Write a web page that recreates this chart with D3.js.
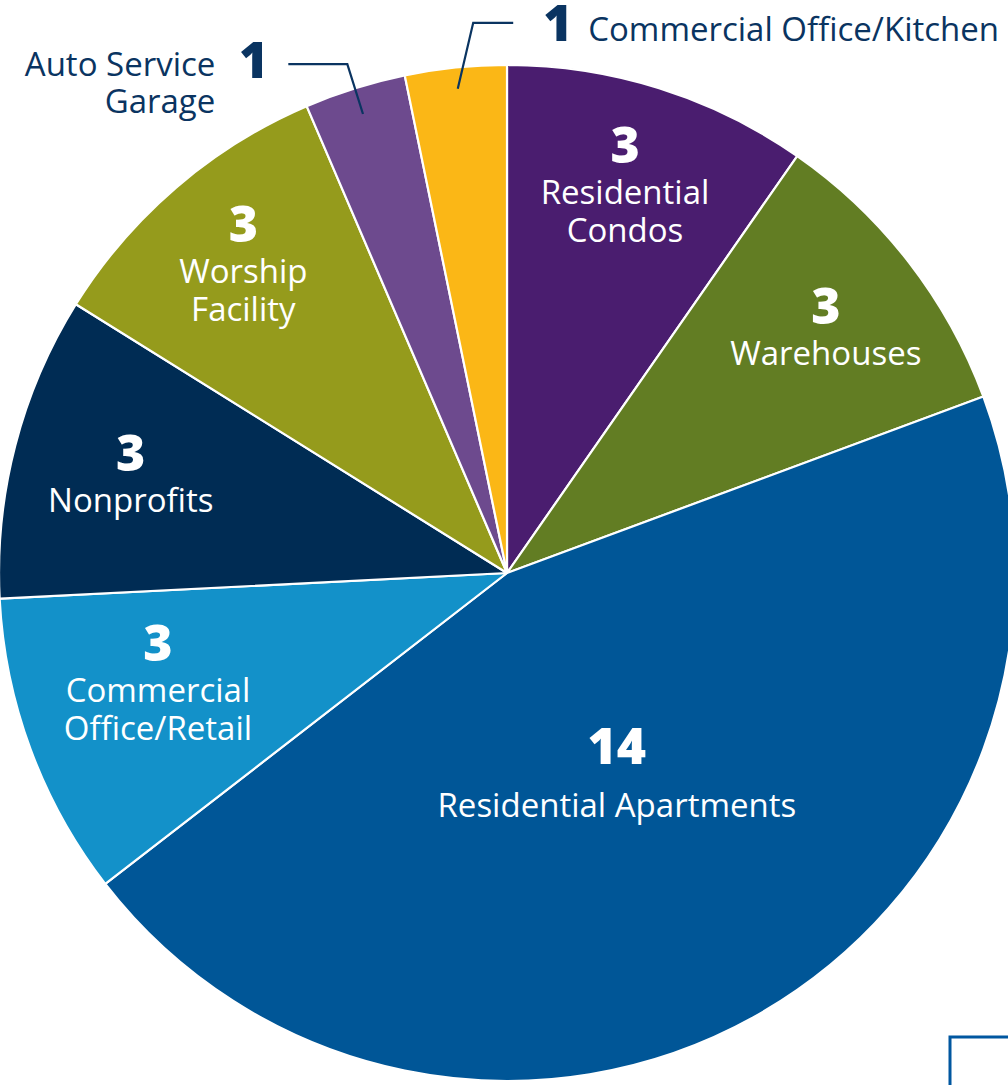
<!DOCTYPE html>
<html><head><meta charset="utf-8">
<script src="https://cdn.jsdelivr.net/npm/d3@7"></script>
<style>
html,body{margin:0;padding:0;background:#fff;}
svg{display:block;}
text{font-family:"Open Sans",sans-serif;}
</style></head>
<body>
<svg id="c" width="1008" height="1085"></svg>
<script>
// ---- data ----
const categories = ["Residential Condos","Warehouses","Residential Apartments","Commercial Office/Retail","Nonprofits","Worship Facility","Auto Service Garage","Commercial Office/Kitchen"];
const values = [3,3,14,3,3,3,1,1];
const labelLines = [["Residential","Condos"],["Warehouses"],["Residential Apartments"],["Commercial","Office/Retail"],["Nonprofits"],["Worship","Facility"],["Auto Service","Garage"],["Commercial Office/Kitchen"]];
const colors = ["#4a1d6f","#627d23","#005697","#1391c9","#002c54","#959b1c","#6d4a8e","#fbb716"];

// ---- layout ----
const W=1008,H=1085, cx=507, cy=573, R=508;
// label block placement: [angle in degrees clockwise from top, radius in px]
const inside = {0:[16.9,406],1:[52.3,403],2:[151.2,228],3:[252.5,366],4:[284.7,389],5:[319.5,406]};
const navy="#0a3461";
const NUM=50, TXT=33, NUMW=800;
const svg=d3.select("#c");
const g=svg.append("g").attr("transform",`translate(${cx},${cy})`);
const pie=d3.pie().sort(null).value(d=>d)(values);
const arc=d3.arc().innerRadius(0).outerRadius(R);
g.selectAll("path.s").data(pie).join("path").attr("class","s")
  .attr("d",arc).attr("fill",(d,i)=>colors[i])
  .attr("stroke","#fff").attr("stroke-width",2.2).attr("stroke-linejoin","round");

function polar(a,r){return [r*Math.sin(a), -r*Math.cos(a)];}

// inside labels
pie.forEach((d,i)=>{
  if(!(i in inside)) return;
  const [deg,rad]=inside[i];
  const [x,y]=polar(deg*Math.PI/180,rad);
  const lines=labelLines[i];
  const numGap = i===2?53:41, lineGap=38;
  const total = 35 + numGap + lineGap*(lines.length-1);
  const top = y - total/2;
  const t=g.append("g").attr("fill","#fff").attr("text-anchor","middle");
  t.append("text").attr("x",x).attr("y",top+35).attr("font-size",NUM).attr("font-weight",NUMW).text(values[i]);
  lines.forEach((l,k)=>{
    t.append("text").attr("x",x).attr("y",top+35+numGap+lineGap*k).attr("font-size",TXT).text(l);
  });
});

// outside labels with leaders
const line=d3.line();
// Auto Service Garage
(function(){
  const d=pie[6], m=(d.startAngle+d.endAngle)/2;
  const p0=polar(m,R*0.947), p1=polar(m,R*1.05);
  const p2=[p1[0]-59,p1[1]];
  g.append("path").attr("d",line([p0,p1,p2])).attr("fill","none").attr("stroke",navy).attr("stroke-width",2.2);
  const nx=p2[0]-20;
  g.append("text").attr("x",nx).attr("y",p2[1]+14).attr("font-size",NUM).attr("font-weight",NUMW).attr("fill",navy).attr("text-anchor","end").text(values[6]);
  const tx=nx-53;
  labelLines[6].forEach((l,k)=>{
    g.append("text").attr("x",tx).attr("y",p2[1]+12+37*k).attr("font-size",TXT).attr("fill",navy).attr("text-anchor","end").text(l);
  });
})();
// Commercial Office/Kitchen
(function(){
  const d=pie[7], m=(d.startAngle+d.endAngle)/2;
  const p0=polar(m,R*0.958), p1=polar(m+0.04,R*1.085);
  const p2=[p1[0]+40,p1[1]];
  g.append("path").attr("d",line([p0,p1,p2])).attr("fill","none").attr("stroke",navy).attr("stroke-width",2.2);
  const nx=p2[0]+30;
  g.append("text").attr("x",nx).attr("y",p2[1]+18).attr("font-size",NUM).attr("font-weight",NUMW).attr("fill",navy).attr("text-anchor","start").text(values[7]);
  g.append("text").attr("x",nx+45).attr("y",p2[1]+18).attr("font-size",TXT).attr("fill",navy).text(labelLines[7][0]);
})();

// frame corner
svg.append("path").attr("d",line([[950,H+5],[950,1037],[W+5,1037]])).attr("fill","none").attr("stroke","#0057a0").attr("stroke-width",3);
</script>
</body></html>
